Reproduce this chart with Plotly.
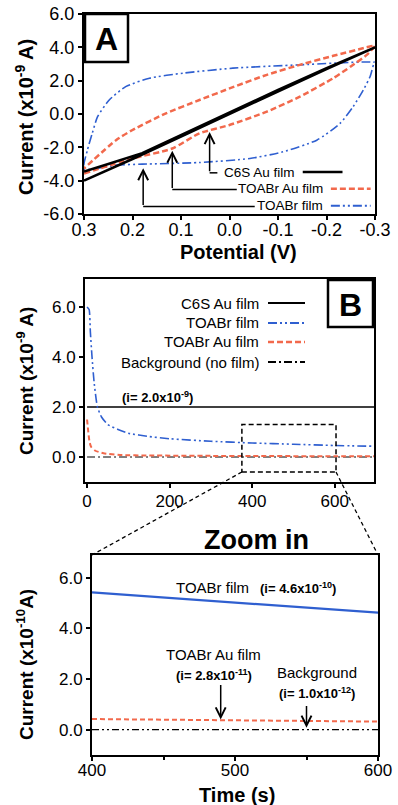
import plotly.graph_objects as go

W, H = 398, 805
FONT = "Liberation Sans, Arial, sans-serif"
BLUE = "#2f5fd0"
RED = "#f2694c"
BLACK = "#000000"

# ---------------- Panel A data (potential V, current x1e-9 A) ----------------
a_c6s_v = [0.3, 0.2, 0.1, 0.0, -0.1, -0.2, -0.3, -0.2, -0.1, 0.0, 0.1, 0.18, 0.25, 0.3]
a_c6s_i = [-4.0, -2.7, -1.35, 0.0, 1.35, 2.7, 4.0, 2.75, 1.45, 0.1, -1.25, -2.35, -3.0, -3.45]

a_toau_v = [0.3, 0.2, 0.118, 0.062, 0.0, -0.077, -0.145, -0.214, -0.25, -0.283, -0.3,
            -0.283, -0.214, -0.145, -0.077, -0.007, 0.062, 0.131, 0.2, 0.234, 0.3]
a_toau_i = [-3.57, -2.67, -2.07, -1.16, -0.66, 0.14, 1.04, 2.15, 2.85, 3.55, 4.1,
            4.0, 3.49, 2.95, 2.35, 1.61, 0.84, 0.04, -0.96, -1.57, -3.27]

a_toa_v = [0.3, 0.234, 0.18, 0.062, -0.042, -0.11, -0.18, -0.228, -0.255, -0.276, -0.29, -0.297, -0.3,
           -0.145, -0.007, 0.096, 0.165, 0.214, 0.248, 0.272, 0.283, 0.293, 0.3]
a_toa_i = [-3.3, -3.07, -3.01, -2.91, -2.67, -2.27, -1.57, -0.56, 0.44, 1.45, 2.25, 2.95, 3.09,
           2.95, 2.75, 2.45, 2.15, 1.64, 0.84, -0.16, -1.16, -2.17, -3.3]

a_xticks = [0.3, 0.2, 0.1, 0.0, -0.1, -0.2, -0.3]
a_xtext = ["0.3", "0.2", "0.1", "0.0", "-0.1", "-0.2", "-0.3"]
a_yticks = [-6, -4, -2, 0, 2, 4, 6]
a_ytext = ["-6.0", "-4.0", "-2.0", "0.0", "2.0", "4.0", "6.0"]

# ---------------- Panel B data (time s, current x1e-9 A) ----------------
b_c6s_t = [0, 700]
b_c6s_i = [2.0, 2.0]
b_toa_t = [0, 5, 8, 12, 17, 25, 35, 50, 75, 100, 150, 200, 300, 400, 500, 600, 700]
b_toa_i = [6.0, 5.9, 5.0, 4.0, 3.0, 2.0, 1.6, 1.3, 1.1, 0.95, 0.82, 0.73, 0.63, 0.56, 0.51, 0.46, 0.43]
b_toau_t = [0, 3, 6, 10, 20, 40, 80, 150, 300, 400, 600, 700]
b_toau_i = [1.5, 1.0, 0.6, 0.4, 0.25, 0.15, 0.08, 0.06, 0.045, 0.04, 0.03, 0.03]
b_bg_t = [0, 700]
b_bg_i = [0.0, 0.0]
b_xticks = [0, 200, 400, 600]
b_yticks = [0, 2, 4, 6]
b_ytext = ["0.0", "2.0", "4.0", "6.0"]
b_zoom_box = [375, 603, -0.6, 1.3]

# ---------------- Panel C data (time s, current x1e-10 A) ----------------
c_toa_t = [400, 450, 500, 550, 600]
c_toa_i = [5.42, 5.22, 5.02, 4.82, 4.62]
c_toau_t = [400, 500, 600]
c_toau_i = [0.42, 0.37, 0.32]
c_bg_t = [400, 600]
c_bg_i = [0.0, 0.0]
c_xticks = [400, 500, 600]
c_yticks = [0, 2, 4, 6]
c_ytext = ["0.0", "2.0", "4.0", "6.0"]


def px(x):
    return x / W


def py(y):
    return 1 - y / H


A_dom_x, A_dom_y = [px(84), px(375)], [py(214), py(14)]
B_dom_x, B_dom_y = [px(85), px(374)], [py(482), py(279)]
C_dom_x, C_dom_y = [px(92), px(378)], [py(755), py(555)]
A_xr, A_yr = [0.3, -0.3], [-6, 6]
B_xr, B_yr = [-5, 695], [-1.0, 7.12]
C_xr, C_yr = [400, 600], [-1.0, 6.9]

DOTDASH2 = "9px,3px,2px,3px,2px,3px"

fig = go.Figure()
# Panel A
fig.add_trace(go.Scatter(x=a_toa_v, y=a_toa_i, mode="lines", xaxis="x", yaxis="y",
                         line=dict(color=BLUE, width=1.6, dash=DOTDASH2, shape="spline", smoothing=0.6)))
fig.add_trace(go.Scatter(x=a_toau_v, y=a_toau_i, mode="lines", xaxis="x", yaxis="y",
                         line=dict(color=RED, width=2.5, dash="6px,3px", shape="spline", smoothing=0.6)))
fig.add_trace(go.Scatter(x=a_c6s_v, y=a_c6s_i, mode="lines", xaxis="x", yaxis="y",
                         line=dict(color=BLACK, width=2.5)))
# Panel B
fig.add_trace(go.Scatter(x=b_c6s_t, y=b_c6s_i, mode="lines", xaxis="x2", yaxis="y2",
                         line=dict(color=BLACK, width=1.3)))
fig.add_trace(go.Scatter(x=b_bg_t, y=b_bg_i, mode="lines", xaxis="x2", yaxis="y2",
                         line=dict(color=BLACK, width=1.2, dash="8px,3px,2px,3px")))
fig.add_trace(go.Scatter(x=b_toau_t, y=b_toau_i, mode="lines", xaxis="x2", yaxis="y2",
                         line=dict(color=RED, width=2, dash="5px,3px", shape="spline", smoothing=0.5)))
fig.add_trace(go.Scatter(x=b_toa_t, y=b_toa_i, mode="lines", xaxis="x2", yaxis="y2",
                         line=dict(color=BLUE, width=1.6, dash=DOTDASH2, shape="spline", smoothing=0.5)))
# Panel C
fig.add_trace(go.Scatter(x=c_bg_t, y=c_bg_i, mode="lines", xaxis="x3", yaxis="y3",
                         line=dict(color=BLACK, width=1.2, dash="7px,3px,2px,3px,2px,3px")))
fig.add_trace(go.Scatter(x=c_toau_t, y=c_toau_i, mode="lines", xaxis="x3", yaxis="y3",
                         line=dict(color=RED, width=2, dash="5px,3px")))
fig.add_trace(go.Scatter(x=c_toa_t, y=c_toa_i, mode="lines", xaxis="x3", yaxis="y3",
                         line=dict(color=BLUE, width=2.2)))


def axis(dom, rng, tickvals, ticktext, size, anchor, minor=None, standoff=0):
    d = dict(domain=dom, range=rng, tickvals=tickvals, ticktext=ticktext, automargin=False,
             showgrid=False, zeroline=False, showline=True, mirror=True,
             linecolor="black", linewidth=2, ticks="outside", ticklen=4, tickwidth=1.5,
             tickcolor="black", tickfont=dict(family=FONT, size=size, color="black"),
             anchor=anchor, fixedrange=True, ticklabelstandoff=standoff)
    if minor:
        d["minor"] = minor
    return d


fig.update_layout(
    template="none",
    width=W, height=H, margin=dict(l=0, r=0, t=0, b=0, pad=0), autosize=False,
    paper_bgcolor="white", plot_bgcolor="white", showlegend=False,
    xaxis=axis(A_dom_x, A_xr, a_xticks, a_xtext, 18, "y", standoff=-6),
    yaxis=axis(A_dom_y, A_yr, a_yticks, a_ytext, 18, "x"),
    xaxis2=axis(B_dom_x, B_xr, b_xticks, [str(v) for v in b_xticks], 17, "y2", standoff=-1),
    yaxis2=axis(B_dom_y, B_yr, b_yticks, b_ytext, 17, "x2"),
    xaxis3=axis(C_dom_x, C_xr, c_xticks, [str(v) for v in c_xticks], 17, "y3",
                minor=dict(dtick=50, ticks="outside", ticklen=3, tickcolor="black"), standoff=-5),
    yaxis3=axis(C_dom_y, C_yr, c_yticks, c_ytext, 17, "x3"),
)

ann = []
shapes = []


def text(x, y, t, size=15, bold=False, xanchor="center", yanchor="middle", xref="paper", yref="paper", angle=0):
    ann.append(dict(x=x, y=y, xref=xref, yref=yref, text=("<b>%s</b>" % t) if bold else t,
                    showarrow=False, xanchor=xanchor, yanchor=yanchor, textangle=angle,
                    font=dict(family=FONT, size=size, color="black")))


# Axis titles
text(px(25), py(117), "Current (x10<sup>-9</sup> A)", 20, True, angle=-90)
text(px(238), py(252), "Potential (V)", 20, True)
text(px(25), py(381), "Current (x10<sup>-9</sup> A)", 19, True, angle=-90)
text(px(25), py(665), "Current (x10<sup>-10</sup>A)", 19, True, angle=-90)
text(px(237), py(795), "Time (s)", 20, True)
text(px(256), py(540), "Zoom in", 27, True)

# Panel label boxes
for (x0, y0, x1, y1, lab) in [(85, 14, 128, 62, "A"), (328, 280, 373, 327, "B")]:
    shapes.append(dict(type="rect", xref="paper", yref="paper", x0=px(x0), x1=px(x1), y0=py(y1), y1=py(y0),
                       line=dict(color="black", width=2.5), fillcolor="white"))
    text(px((x0 + x1) / 2), py((y0 + y1) / 2 + 1), lab, 32, True)

# Panel A legend with elbow arrows (data coords of axis A)
a_leg = [("C6S Au film", -0.139, -3.48, dict(color=BLACK, width=2.5), 0.041, -1.08, 0.025),
         ("TOABr Au film", -0.197, -4.48, dict(color=RED, width=2.5, dash="6px,3px"), 0.118, -2.2, -0.015),
         ("TOABr film", -0.197, -5.5, dict(color=BLUE, width=2, dash=DOTDASH2), 0.178, -3.25, -0.052)]
for lab, xr, yv, ln, ax_x, tip_y, hx in a_leg:
    text(xr, yv, lab, 13.5, xanchor="right", xref="x", yref="y")
    shapes.append(dict(type="line", xref="x", yref="y", x0=xr - 0.012, x1=xr - 0.094, y0=yv, y1=yv, line=ln))
    shapes.append(dict(type="line", xref="x", yref="y", x0=ax_x, x1=hx, y0=yv - 0.05, y1=yv - 0.05,
                       line=dict(color="black", width=1.5)))
    ann.append(dict(x=ax_x, y=tip_y, ax=ax_x, ay=yv - 0.05, xref="x", yref="y", axref="x", ayref="y",
                    showarrow=True, arrowhead=5, arrowsize=1.3, arrowwidth=1.5, arrowcolor="black", text=""))

# Panel B legend (paper coords)
b_leg = [("C6S Au film", 303, dict(color=BLACK, width=2.2)),
         ("TOABr film", 323, dict(color=BLUE, width=2, dash=DOTDASH2)),
         ("TOABr Au film", 342, dict(color=RED, width=2.5, dash="6px,3px")),
         ("Background (no film)", 362, dict(color=BLACK, width=2, dash="8px,3px,2px,3px"))]
for lab, yy, ln in b_leg:
    text(px(261), py(yy), lab, 15, xanchor="right")
    shapes.append(dict(type="line", xref="paper", yref="paper", x0=px(268), x1=px(305), y0=py(yy), y1=py(yy), line=ln))
text(80, 2.42, "(i= 2.0x10<sup>-9</sup>)", 13, True, xanchor="left", xref="x2", yref="y2")

# Zoom box and connectors
bx0, bx1, by0, by1 = b_zoom_box
shapes.append(dict(type="rect", xref="x2", yref="y2", x0=bx0, x1=bx1, y0=by0, y1=by1,
                   line=dict(color="black", width=1.5, dash="5px,3px")))


def to_paper(v, rng, dom):
    return dom[0] + (v - rng[0]) / (rng[1] - rng[0]) * (dom[1] - dom[0])


for bx, cx in [(bx0, C_dom_x[0]), (bx1, C_dom_x[1])]:
    shapes.append(dict(type="line", xref="paper", yref="paper",
                       x0=to_paper(bx, B_xr, B_dom_x), y0=to_paper(by0, B_yr, B_dom_y),
                       x1=cx, y1=C_dom_y[1], line=dict(color="black", width=1.3, dash="4px,3px")))

# Panel C annotations
text(511, 5.61, "TOABr film", 15, xanchor="right", xref="x3", yref="y3")
text(516, 5.61, "(i= 4.6x10<sup>-10</sup>)", 13, True, xanchor="left", xref="x3", yref="y3")
text(485, 2.96, "TOABr Au film", 15, xref="x3", yref="y3")
text(485, 2.17, "(i= 2.8x10<sup>-11</sup>)", 13, True, xref="x3", yref="y3")
text(557, 2.25, "Background", 15, xref="x3", yref="y3")
text(557, 1.46, "(i= 1.0x10<sup>-12</sup>)", 13, True, xref="x3", yref="y3")
for (xa, y_from, y_to) in [(490, 1.82, 0.40), (550, 0.99, 0.08)]:
    ann.append(dict(x=xa, y=y_to, ax=xa, ay=y_from, xref="x3", yref="y3", axref="x3", ayref="y3",
                    showarrow=True, arrowhead=5, arrowsize=1.3, arrowwidth=1.5, arrowcolor="black", text=""))

fig.update_layout(annotations=ann, shapes=shapes)
fig.write_html("out.html")
